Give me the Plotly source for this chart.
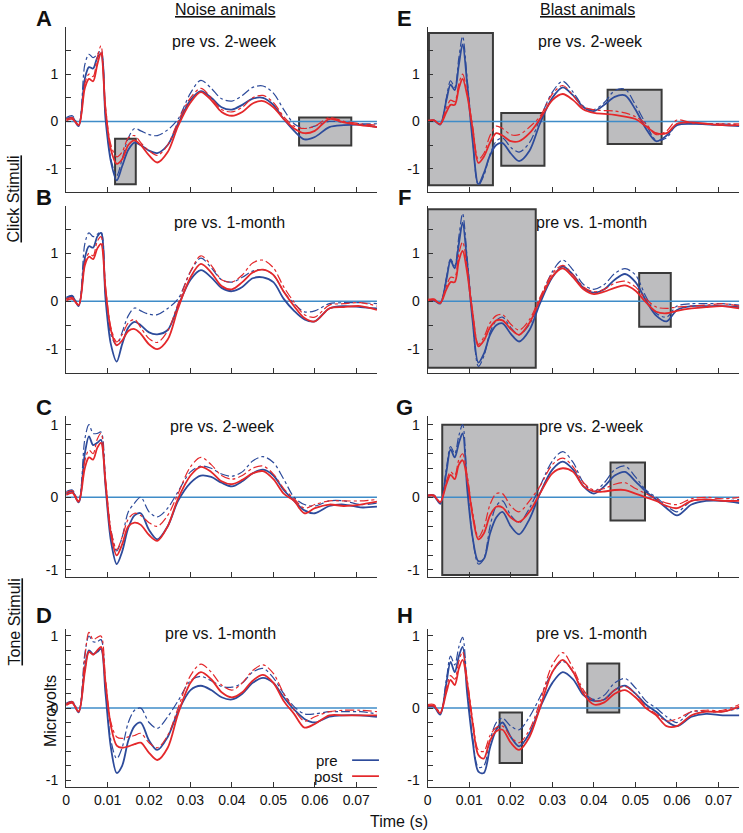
import plotly.graph_objects as go

# ---------------- data ----------------
T = [0, 0.0015, 0.003, 0.0045, 0.0055, 0.0065, 0.0075, 0.0084, 0.0095, 0.0108,
     0.0122, 0.0135, 0.015, 0.0165, 0.018, 0.020, 0.022, 0.0245, 0.027, 0.030,
     0.0325, 0.035, 0.0375, 0.040, 0.0425, 0.045, 0.0475, 0.050, 0.0525, 0.055,
     0.0575, 0.060, 0.0635, 0.067, 0.071, 0.075]

# Panel A (noise, click, pre vs 2-week)
A_pre1 = [0.05, 0.08, -0.10, 0.90, 1.15, 1.12, 1.35, 1.43, 0.05, -0.85, -1.25, -0.95, -0.60, -0.45, -0.50, -0.62, -0.67, -0.50, -0.05, 0.45, 0.64, 0.50, 0.30, 0.25, 0.35, 0.48, 0.50, 0.35, 0.05, -0.20, -0.38, -0.33, -0.12, -0.08, -0.07, -0.12]
A_pre2 = [0.08, 0.12, -0.08, 1.20, 1.42, 1.35, 1.42, 1.50, 0.15, -0.80, -1.15, -0.80, -0.35, -0.15, -0.20, -0.28, -0.30, -0.18, 0.05, 0.60, 0.87, 0.70, 0.48, 0.43, 0.55, 0.72, 0.75, 0.60, 0.25, -0.05, -0.15, -0.10, 0.00, -0.02, -0.05, -0.05]
A_post1 = [0.02, 0.05, -0.08, 0.70, 0.90, 0.85, 1.20, 1.45, 0.25, -0.60, -0.90, -0.80, -0.50, -0.40, -0.50, -0.72, -0.87, -0.65, -0.10, 0.40, 0.62, 0.45, 0.20, 0.12, 0.20, 0.38, 0.43, 0.30, 0.05, -0.15, -0.25, -0.20, 0.05, -0.02, -0.08, -0.12]
A_post2 = [0.05, 0.08, -0.07, 0.80, 1.00, 0.95, 1.35, 1.60, 0.30, -0.50, -0.75, -0.65, -0.35, -0.30, -0.45, -0.62, -0.72, -0.50, 0.00, 0.50, 0.70, 0.50, 0.25, 0.20, 0.30, 0.50, 0.55, 0.40, 0.10, -0.10, -0.15, -0.10, 0.08, 0.00, -0.05, -0.08]

# Panel B (noise, click, pre vs 1-month)
B_pre1 = [0.05, 0.10, -0.10, 0.90, 1.15, 1.12, 1.35, 1.43, 0.05, -0.90, -1.26, -0.90, -0.55, -0.43, -0.50, -0.65, -0.69, -0.60, -0.10, 0.45, 0.65, 0.50, 0.28, 0.21, 0.30, 0.48, 0.50, 0.40, 0.05, -0.20, -0.38, -0.42, -0.15, -0.10, -0.12, -0.15]
B_pre2 = [0.08, 0.12, -0.08, 1.20, 1.43, 1.35, 1.40, 1.45, 0.15, -0.70, -0.92, -0.65, -0.30, -0.14, -0.20, -0.27, -0.28, -0.15, 0.05, 0.62, 0.90, 0.70, 0.45, 0.40, 0.50, 0.63, 0.66, 0.55, 0.20, -0.05, -0.22, -0.20, -0.05, -0.03, -0.03, -0.05]
B_post1 = [0.02, 0.05, -0.08, 0.75, 0.93, 0.88, 1.10, 1.20, 0.25, -0.60, -0.92, -0.82, -0.62, -0.58, -0.68, -0.90, -1.00, -0.80, -0.15, 0.50, 0.78, 0.60, 0.32, 0.25, 0.40, 0.60, 0.66, 0.55, 0.20, -0.10, -0.35, -0.42, -0.15, -0.12, -0.10, -0.18]
B_post2 = [0.05, 0.08, -0.07, 0.80, 1.00, 0.95, 1.25, 1.35, 0.30, -0.55, -0.85, -0.70, -0.45, -0.38, -0.55, -0.78, -0.86, -0.62, -0.05, 0.62, 0.95, 0.75, 0.45, 0.40, 0.55, 0.80, 0.86, 0.70, 0.30, -0.02, -0.28, -0.33, -0.08, -0.05, -0.03, -0.10]

# Panel C (noise, tone, pre vs 2-week)
C_pre1 = [0.05, 0.08, -0.07, 0.60, 0.84, 0.72, 0.75, 0.79, 0.15, -0.60, -0.92, -0.75, -0.42, -0.25, -0.22, -0.45, -0.58, -0.40, -0.05, 0.20, 0.30, 0.28, 0.20, 0.15, 0.22, 0.33, 0.38, 0.30, 0.10, -0.05, -0.18, -0.22, -0.12, -0.10, -0.14, -0.13]
C_pre2 = [0.08, 0.10, -0.06, 0.80, 1.00, 0.88, 0.88, 0.90, 0.20, -0.45, -0.74, -0.55, -0.20, -0.08, 0.00, -0.20, -0.27, -0.15, 0.08, 0.35, 0.43, 0.40, 0.32, 0.29, 0.35, 0.50, 0.56, 0.48, 0.25, 0.00, -0.10, -0.12, -0.05, -0.05, -0.10, -0.08]
C_post1 = [0.03, 0.06, -0.06, 0.40, 0.55, 0.52, 0.68, 0.75, 0.20, -0.50, -0.80, -0.65, -0.40, -0.35, -0.38, -0.52, -0.60, -0.40, -0.02, 0.30, 0.42, 0.35, 0.22, 0.18, 0.24, 0.33, 0.36, 0.25, 0.05, -0.05, -0.22, -0.15, -0.10, -0.12, -0.10, -0.06]
C_post2 = [0.06, 0.09, -0.05, 0.50, 0.65, 0.60, 0.80, 0.88, 0.25, -0.45, -0.72, -0.55, -0.30, -0.22, -0.25, -0.35, -0.40, -0.25, 0.05, 0.42, 0.55, 0.45, 0.30, 0.25, 0.30, 0.40, 0.43, 0.32, 0.12, -0.02, -0.15, -0.10, -0.05, -0.05, -0.05, -0.03]

# Panel D (noise, tone, pre vs 1-month)
D_pre1 = [0.05, 0.08, -0.06, 0.55, 0.80, 0.75, 0.78, 0.82, 0.20, -0.55, -0.90, -0.80, -0.45, -0.25, -0.20, -0.45, -0.58, -0.40, -0.05, 0.25, 0.31, 0.25, 0.15, 0.12, 0.20, 0.35, 0.42, 0.35, 0.15, -0.02, -0.15, -0.20, -0.12, -0.10, -0.10, -0.12]
D_pre2 = [0.07, 0.09, -0.05, 0.75, 1.00, 0.92, 0.92, 0.95, 0.25, -0.45, -0.70, -0.55, -0.20, -0.03, 0.00, -0.20, -0.28, -0.12, 0.10, 0.38, 0.44, 0.38, 0.30, 0.29, 0.35, 0.50, 0.55, 0.42, 0.20, 0.02, -0.08, -0.08, -0.05, -0.05, -0.05, -0.08]
D_post1 = [0.04, 0.07, -0.05, 0.50, 0.78, 0.74, 0.80, 0.85, 0.35, -0.25, -0.52, -0.55, -0.53, -0.50, -0.48, -0.62, -0.72, -0.55, -0.08, 0.35, 0.50, 0.40, 0.22, 0.15, 0.22, 0.38, 0.46, 0.35, 0.10, -0.08, -0.27, -0.22, -0.10, -0.10, -0.10, -0.10]
D_post2 = [0.06, 0.09, -0.04, 0.70, 1.05, 0.95, 0.98, 1.00, 0.40, -0.20, -0.40, -0.42, -0.40, -0.38, -0.35, -0.48, -0.55, -0.38, 0.00, 0.45, 0.61, 0.50, 0.32, 0.25, 0.35, 0.52, 0.60, 0.48, 0.20, -0.02, -0.18, -0.12, -0.05, -0.03, -0.03, -0.05]

# Panel E (blast, click, pre vs 2-week)
E_pre1 = [0.00, 0.02, -0.07, 0.45, 0.78, 0.66, 1.20, 1.63, 0.80, -0.40, -1.33, -1.10, -0.72, -0.50, -0.46, -0.68, -0.84, -0.62, -0.05, 0.50, 0.72, 0.55, 0.30, 0.22, 0.35, 0.52, 0.55, 0.25, -0.15, -0.42, -0.30, -0.08, -0.05, -0.06, -0.08, -0.10]
E_pre2 = [0.00, 0.02, -0.06, 0.50, 0.86, 0.72, 1.35, 1.80, 0.90, -0.35, -1.35, -1.15, -0.70, -0.42, -0.35, -0.55, -0.65, -0.45, 0.05, 0.62, 0.85, 0.62, 0.32, 0.25, 0.40, 0.65, 0.68, 0.35, -0.05, -0.40, -0.35, -0.05, -0.05, -0.05, -0.05, -0.08]
E_post1 = [0.00, 0.02, -0.06, 0.20, 0.35, 0.35, 0.70, 0.90, 0.55, -0.15, -0.88, -0.75, -0.45, -0.25, -0.30, -0.42, -0.42, -0.25, 0.05, 0.45, 0.58, 0.45, 0.25, 0.18, 0.16, 0.14, 0.10, 0.05, -0.10, -0.25, -0.25, -0.05, -0.02, -0.05, -0.08, -0.08]
E_post2 = [0.02, 0.03, -0.05, 0.28, 0.45, 0.42, 0.80, 1.00, 0.60, -0.10, -0.80, -0.68, -0.30, -0.10, -0.15, -0.28, -0.28, -0.12, 0.10, 0.58, 0.76, 0.55, 0.30, 0.25, 0.23, 0.22, 0.18, 0.10, -0.05, -0.28, -0.20, 0.03, -0.03, -0.05, -0.05, -0.05]

# Panel F (blast, click, pre vs 1-month)
F_pre1 = [0.00, 0.02, -0.05, 0.45, 0.85, 0.69, 1.20, 1.64, 0.80, -0.40, -1.28, -1.10, -0.70, -0.50, -0.46, -0.68, -0.84, -0.60, -0.05, 0.50, 0.73, 0.55, 0.28, 0.18, 0.25, 0.45, 0.57, 0.40, 0.02, -0.30, -0.42, -0.18, -0.10, -0.10, -0.10, -0.12]
F_pre2 = [0.00, 0.02, -0.04, 0.50, 0.88, 0.75, 1.35, 1.83, 0.90, -0.35, -1.36, -1.15, -0.65, -0.40, -0.33, -0.55, -0.70, -0.48, 0.02, 0.62, 0.86, 0.65, 0.35, 0.25, 0.35, 0.58, 0.68, 0.55, 0.10, -0.25, -0.33, -0.10, -0.05, -0.05, -0.05, -0.08]
F_post1 = [0.02, 0.03, -0.04, 0.25, 0.40, 0.40, 0.85, 1.05, 0.60, -0.25, -0.94, -0.82, -0.55, -0.40, -0.40, -0.58, -0.70, -0.45, 0.02, 0.52, 0.69, 0.50, 0.25, 0.15, 0.20, 0.28, 0.33, 0.22, -0.02, -0.22, -0.25, -0.20, -0.15, -0.12, -0.10, -0.15]
F_post2 = [0.04, 0.05, -0.03, 0.32, 0.50, 0.50, 1.00, 1.24, 0.70, -0.20, -0.90, -0.75, -0.45, -0.30, -0.28, -0.48, -0.60, -0.38, 0.08, 0.58, 0.75, 0.55, 0.30, 0.20, 0.25, 0.38, 0.42, 0.30, 0.05, -0.12, -0.15, -0.12, -0.10, -0.08, -0.05, -0.10]

# Panel G (blast, tone, pre vs 2-week)
G_pre1 = [0.02, 0.02, -0.09, 0.35, 0.66, 0.55, 0.75, 0.88, 0.12, -0.55, -0.88, -0.85, -0.50, -0.28, -0.20, -0.40, -0.51, -0.30, 0.05, 0.38, 0.49, 0.38, 0.15, 0.05, 0.15, 0.30, 0.35, 0.22, 0.08, -0.03, -0.15, -0.25, -0.10, -0.05, -0.05, -0.08]
G_pre2 = [0.03, 0.03, -0.08, 0.40, 0.70, 0.60, 0.85, 1.00, 0.20, -0.55, -0.92, -0.85, -0.40, -0.12, -0.05, -0.25, -0.35, -0.15, 0.15, 0.50, 0.63, 0.48, 0.20, 0.08, 0.20, 0.38, 0.43, 0.28, 0.10, 0.00, -0.12, -0.20, -0.05, -0.03, -0.05, -0.03]
G_post1 = [0.02, 0.02, -0.07, 0.18, 0.31, 0.25, 0.45, 0.51, 0.25, -0.25, -0.58, -0.50, -0.25, -0.13, -0.14, -0.28, -0.34, -0.20, 0.05, 0.33, 0.40, 0.35, 0.15, 0.08, 0.08, 0.10, 0.10, 0.05, 0.00, -0.05, -0.12, -0.15, -0.05, -0.03, -0.05, -0.05]
G_post2 = [0.03, 0.03, -0.06, 0.22, 0.35, 0.30, 0.52, 0.60, 0.30, -0.20, -0.55, -0.42, -0.10, 0.05, 0.05, -0.12, -0.20, -0.05, 0.15, 0.45, 0.54, 0.42, 0.20, 0.10, 0.12, 0.18, 0.20, 0.12, 0.05, -0.02, -0.08, -0.10, -0.02, 0.00, -0.02, 0.00]

# Panel H (blast, tone, pre vs 1-month)
H_pre1 = [0.02, 0.02, -0.09, 0.35, 0.64, 0.50, 0.72, 0.85, 0.20, -0.45, -0.88, -0.90, -0.55, -0.30, -0.20, -0.40, -0.53, -0.35, 0.00, 0.35, 0.50, 0.40, 0.18, 0.10, 0.12, 0.25, 0.31, 0.20, 0.05, -0.05, -0.18, -0.25, -0.12, -0.08, -0.10, -0.10]
H_pre2 = [0.03, 0.03, -0.08, 0.40, 0.72, 0.60, 0.85, 0.98, 0.30, -0.40, -0.82, -0.80, -0.45, -0.20, -0.14, -0.25, -0.30, -0.12, 0.15, 0.50, 0.65, 0.50, 0.22, 0.12, 0.18, 0.35, 0.41, 0.28, 0.10, 0.00, -0.12, -0.20, -0.05, -0.05, -0.05, 0.00]
H_post1 = [0.03, 0.03, -0.07, 0.22, 0.39, 0.32, 0.55, 0.67, 0.35, -0.20, -0.65, -0.70, -0.45, -0.32, -0.30, -0.48, -0.58, -0.40, 0.00, 0.50, 0.67, 0.50, 0.20, 0.05, 0.08, 0.20, 0.25, 0.15, 0.00, -0.10, -0.25, -0.25, -0.10, -0.05, -0.05, 0.02]
H_post2 = [0.05, 0.05, -0.06, 0.28, 0.45, 0.40, 0.65, 0.78, 0.40, -0.15, -0.58, -0.60, -0.38, -0.27, -0.25, -0.40, -0.48, -0.30, 0.08, 0.60, 0.77, 0.55, 0.25, 0.10, 0.12, 0.25, 0.30, 0.20, 0.02, -0.08, -0.18, -0.15, -0.05, -0.03, -0.03, 0.05]

# significance windows: (t_start, t_end, v_low, v_high)
A_boxes = [(0.0118, 0.0168, -1.33, -0.37), (0.0562, 0.0688, -0.51, 0.08)]
B_boxes = []
C_boxes = []
D_boxes = []
E_boxes = [(0.0003, 0.0157, -1.35, 1.87), (0.0177, 0.0281, -0.94, 0.18), (0.0433, 0.0563, -0.48, 0.67)]
F_boxes = [(0.0, 0.026, -1.39, 1.92), (0.0509, 0.0585, -0.53, 0.59)]
G_boxes = [(0.0035, 0.0264, -1.07, 1.0), (0.0440, 0.0523, -0.32, 0.48)]
H_boxes = [(0.0173, 0.0227, -0.76, -0.06), (0.0384, 0.0461, -0.06, 0.62)]

LETTERS = ["A", "B", "C", "D", "E", "F", "G", "H"]
SUBTITLES = ["pre vs. 2-week", "pre vs. 1-month", "pre vs. 2-week", "pre vs. 1-month",
             "pre vs. 2-week", "pre vs. 1-month", "pre vs. 2-week", "pre vs. 1-month"]
X_TICKS = [0, 0.01, 0.02, 0.03, 0.04, 0.05, 0.06, 0.07]
X_TICK_LABELS = ["0", "0.01", "0.02", "0.03", "0.04", "0.05", "0.06", "0.07"]
Y_TICKS_CLICK = [-1.5, -1, -0.5, 0, 0.5, 1, 1.5]
Y_TICKS_TONE = [-1, -0.8, -0.6, -0.4, -0.2, 0, 0.2, 0.4, 0.6, 0.8, 1]
Y_LABELED = {-1: "-1", 0: "0", 1: "1"}

PANELS = [
    (A_pre1, A_pre2, A_post1, A_post2, A_boxes),
    (B_pre1, B_pre2, B_post1, B_post2, B_boxes),
    (C_pre1, C_pre2, C_post1, C_post2, C_boxes),
    (D_pre1, D_pre2, D_post1, D_post2, D_boxes),
    (E_pre1, E_pre2, E_post1, E_post2, E_boxes),
    (F_pre1, F_pre2, F_post1, F_post2, F_boxes),
    (G_pre1, G_pre2, G_post1, G_post2, G_boxes),
    (H_pre1, H_pre2, H_post1, H_post2, H_boxes),
]

# ---------------- layout geometry (pixels) ----------------
W, H = 743, 833
COL_X = [(62.5, 375.0), (426.0, 739.3)]
ROW_Y = [(26.0, 191.7), (205.0, 373.0), (416.0, 577.5), (629.3, 788.3)]
ROW_RANGE = [(-1.5, 2.0), (-1.5, 2.0), (-1.1, 1.12), (-1.1, 1.1)]
LETTER_X = [40, 403]
LETTER_Y = [18, 197, 407, 616]

def fx(p):
    return p / W

def fy(p):
    return 1 - p / H

BLUE = "#2d4b9b"
RED = "#e4282b"
ZERO = "#3f8cc8"
AX = "#333333"
FONT = "Liberation Sans, Arial, sans-serif"

fig = go.Figure()
shapes = []
annotations = []

def note(text, x, y, size=16, angle=0, xanchor="center"):
    annotations.append(dict(text=text, x=fx(x), y=fy(y), xref="paper", yref="paper",
                            showarrow=False, textangle=angle, xanchor=xanchor,
                            yanchor="middle", font=dict(size=size, color="#111", family=FONT)))

for i, (pre1, pre2, post1, post2, boxes) in enumerate(PANELS):
    col = i // 4
    row = i % 4
    n = i + 1
    xa = "x" if n == 1 else f"x{n}"
    ya = "y" if n == 1 else f"y{n}"
    xkey = "xaxis" if n == 1 else f"xaxis{n}"
    ykey = "yaxis" if n == 1 else f"yaxis{n}"

    x0p, x1p = COL_X[col]
    y0p, y1p = ROW_Y[row]
    tone = row >= 2
    yt = Y_TICKS_TONE if tone else Y_TICKS_CLICK
    fig.update_layout({
        xkey: dict(domain=[fx(x0p), fx(x1p)], anchor=ya, range=[0, 0.075],
                   showline=True, linecolor=AX, linewidth=1.3, mirror=False,
                   ticks="inside", ticklen=5, tickwidth=1.2, tickcolor=AX,
                   tickvals=X_TICKS, ticktext=X_TICK_LABELS,
                   showticklabels=(row == 3), showgrid=False, zeroline=False,
                   tickfont=dict(size=14, color="#111", family=FONT), fixedrange=True),
        ykey: dict(domain=[fy(y1p), fy(y0p)], anchor=xa, range=list(ROW_RANGE[row]),
                   showline=True, linecolor=AX, linewidth=1.3,
                   ticks="inside", ticklen=5, tickwidth=1.2, tickcolor=AX,
                   tickvals=yt, ticktext=[Y_LABELED.get(v, "") for v in yt],
                   ticklabelstandoff=4,
                   showgrid=False, zeroline=False,
                   tickfont=dict(size=14, color="#111", family=FONT), fixedrange=True),
    })

    for (t0, t1, v0, v1) in boxes:
        shapes.append(dict(type="rect", xref=xa, yref=ya, x0=t0, x1=t1, y0=v0, y1=v1,
                           fillcolor="#bdbdbf", line=dict(color="#3a3a3a", width=2),
                           layer="below"))

    # zero reference line
    fig.add_trace(go.Scatter(x=[T[0], T[-1]], y=[0, 0], mode="lines", xaxis=xa, yaxis=ya,
                             line=dict(color=ZERO, width=1.5), showlegend=False,
                             hoverinfo="skip"))
    for ys, color, dash, w in [(pre2, BLUE, "dashdot", 1.2), (pre1, BLUE, "solid", 1.8),
                               (post2, RED, "dashdot", 1.2), (post1, RED, "solid", 1.8)]:
        fig.add_trace(go.Scatter(x=T, y=ys, mode="lines", xaxis=xa, yaxis=ya,
                                 line=dict(color=color, width=w, dash=dash,
                                           shape="spline", smoothing=0.9),
                                 showlegend=False))

    note(f"<b>{LETTERS[i]}</b>", LETTER_X[col], LETTER_Y[row], size=22)
    note(SUBTITLES[i], [222, 227, 220, 218][row] if col == 0 else [590, 591, 591, 591][row],
         [41, 222, 427, 634][row])

# column / row headers and axis titles
note("<u>Noise animals</u>", 222, 9)
note("<u>Blast animals</u>", 587, 9)
note("<u>Click Stimuli</u>", 10, 198, angle=-90)
note("<u>Tone Stimuli</u>", 11, 622, angle=-90)
note("Microvolts", 47, 712, angle=-90)
note("Time (s)", 397, 822)
# legend
note("pre", 338, 761, size=15, xanchor="right")
note("post", 343, 777, size=15, xanchor="right")
shapes += [
    dict(type="line", xref="paper", yref="paper", x0=fx(350), x1=fx(377), y0=fy(761), y1=fy(761),
         line=dict(color=BLUE, width=1.7)),
    dict(type="line", xref="paper", yref="paper", x0=fx(350), x1=fx(377), y0=fy(777), y1=fy(777),
         line=dict(color=RED, width=1.7)),
]

fig.update_layout(width=W, height=H, margin=dict(l=0, r=0, t=0, b=0),
                  paper_bgcolor="white", plot_bgcolor="rgba(0,0,0,0)",
                  showlegend=False, shapes=shapes, annotations=annotations,
                  font=dict(family=FONT, color="#111"))

fig.write_html("out.html", config={"displayModeBar": False},
               post_script="document.body.style.margin='0';")
